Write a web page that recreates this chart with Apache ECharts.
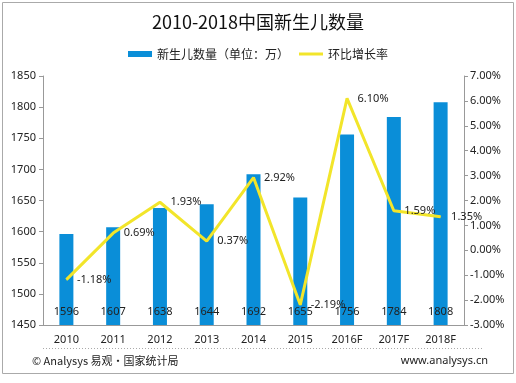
<!DOCTYPE html>
<html><head><meta charset="utf-8">
<script src="https://cdn.jsdelivr.net/npm/echarts@6/dist/echarts.min.js"></script>
<style>html,body{margin:0;padding:0;background:#fff}#c{width:516px;height:383px}</style>
</head><body><div id="c"></div>
<script>
const categories = ['2010','2011','2012','2013','2014','2015','2016F','2017F','2018F'];
const births = [1596,1607,1638,1644,1692,1655,1756,1784,1808];
const growth = [-1.18,0.69,1.93,0.37,2.92,-2.19,6.10,1.59,1.35];
const leftTicks = [1450,1850,50];
const rightTicks = [-3,7,1];

const FONT = '"Noto Sans", "Noto Sans CJK SC", sans-serif';
const chart = echarts.init(document.getElementById('c'), null, {renderer:'canvas'});
chart.setOption({
  backgroundColor:'#fff',
  animation:false,
  textStyle:{fontFamily:FONT},
  title:{text:'2010-2018中国新生儿数量', left:'center', top:8,
    textStyle:{fontSize:18, fontWeight:'normal', color:'#111', fontFamily:'"Noto Sans CJK SC", sans-serif'}},
  legend:{top:43, left:'center', itemGap:10, itemWidth:24, itemHeight:6,
    textStyle:{fontSize:12, color:'#222', fontFamily:'"Noto Sans CJK SC", sans-serif'},
    data:[{name:'新生儿数量（单位：万）', icon:'rect'},{name:'环比增长率', icon:'path://M0,0H24V3H0Z'}]},
  grid:{left:43, right:52, top:76, bottom:58},
  xAxis:{type:'category', data:categories,
    axisLine:{onZero:false, lineStyle:{color:'#999'}}, axisTick:{show:false},
    axisLabel:{color:'#222', fontSize:11, margin:9}},
  yAxis:[
    {type:'value', min:leftTicks[0], max:leftTicks[1], interval:leftTicks[2],
      axisLine:{show:true, lineStyle:{color:'#999'}}, axisTick:{show:true, length:4, lineStyle:{color:'#999'}},
      splitLine:{show:false}, axisLabel:{color:'#222', fontSize:11, margin:7, formatter:v=>String(v)}},
    {type:'value', min:rightTicks[0], max:rightTicks[1], interval:rightTicks[2], position:'right',
      axisLine:{show:true, lineStyle:{color:'#999'}}, axisTick:{show:true, length:4, lineStyle:{color:'#999'}},
      splitLine:{show:false}, axisLabel:{color:'#222', fontSize:11, margin:6,
        formatter:v=>v.toFixed(2)+'%'}}
  ],
  series:[
    {name:'新生儿数量（单位：万）', type:'bar', data:births, barWidth:14,
      itemStyle:{color:'#0a8ed8'},
      label:{show:true, position:'insideBottom', distance:8, color:'#222', fontSize:11}},
    {name:'环比增长率', type:'line', yAxisIndex:1, data:growth, symbol:'circle', symbolSize:1, showSymbol:true,
      lineStyle:{color:'#f2e52a', width:3}, itemStyle:{color:'#f2e52a'},
      labelLayout:{hideOverlap:false},
      label:{show:true, position:'right', distance:10, color:'#222', fontSize:11,
        formatter:p=>p.value.toFixed(2)+'%'}}
  ],
  graphic:[
    {type:'rect', shape:{x:2.5,y:2.5,width:511,height:371}, style:{fill:'none', stroke:'#aaa', lineWidth:1}, z:-1},
    {type:'line', shape:{x1:43,y1:348.5,x2:483,y2:348.5}, style:{stroke:'#aaa', lineWidth:1, lineDash:[1,2]}},
    {type:'text', left:32, top:355, style:{text:'© Analysys 易观·国家统计局', fontSize:11, fill:'#222', fontFamily:'"Noto Sans CJK SC", sans-serif'}},
    {type:'text', right:28, top:355, style:{text:'www.analysys.cn', fontSize:11, fill:'#222', fontFamily:FONT}}
  ]
});
</script></body></html>
